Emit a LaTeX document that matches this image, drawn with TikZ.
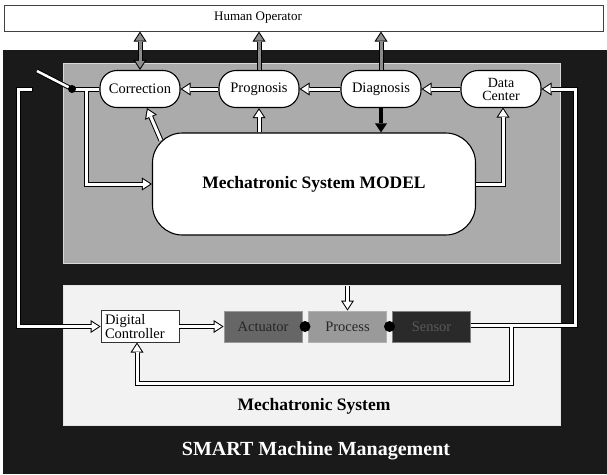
\documentclass[tikz,border=0pt]{standalone}
\usepackage{fontspec}
\setmainfont{Liberation Serif}
\usetikzlibrary{arrows.meta,calc}
\definecolor{bgdark}{HTML}{1A1A1A}
\definecolor{panelgray}{HTML}{ABABAB}
\definecolor{panelwhite}{HTML}{F2F2F2}
\definecolor{actgray}{HTML}{666666}
\definecolor{procgray}{HTML}{9A9A9A}
\definecolor{sengray}{HTML}{2A2A2A}
\definecolor{hoarrow}{HTML}{8C8C8C}
\begin{document}
\begin{tikzpicture}[x=1pt,y=-1pt,
  oval/.style={draw=black, line width=1.1pt, fill=white, rounded corners=17pt, minimum width=80pt, minimum height=37pt, inner sep=1pt, font=\fontsize{14.5}{15}\selectfont, align=center},
  blkbox/.style={line width=0.8pt, minimum width=78pt, minimum height=31pt, inner sep=2pt, font=\fontsize{14.5}{15}\selectfont},
  outer/.style={line width=5pt, draw=black},
  inner/.style={line width=3pt, draw=#1}, inner/.default=white,
  tipo/.style={-{Triangle[length=10pt,width=13pt,line width=0pt]}},
  tipi/.style={shorten >=1.83pt, -{Triangle[length=7.2pt,width=9.3pt,line width=0pt]}},
  tipoo/.style={{Triangle[length=10pt,width=13pt,line width=0pt]}-{Triangle[length=10pt,width=13pt,line width=0pt]}},
  tipii/.style={shorten >=1.83pt, shorten <=1.83pt, {Triangle[length=7.2pt,width=9.3pt,line width=0pt]}-{Triangle[length=7.2pt,width=9.3pt,line width=0pt]}},
]
\useasboundingbox (0,0) rectangle (607,474);
\fill[white] (0,0) rectangle (607,474);
\fill[bgdark] (3,50) rectangle (607,474);
\filldraw[fill=panelgray, draw=black!15, line width=0.8pt] (63,63) rectangle (560,263);
\filldraw[fill=panelwhite, draw=black!10, line width=0.8pt] (63,285) rectangle (560,425);

% Human operator
\node[draw=black!75, line width=1pt, fill=white, minimum width=599pt, minimum height=26pt, inner sep=0pt] (ho) at (303.5,18) {};
\node[font=\fontsize{13}{13}\selectfont] (hotext) at (258,18) {Human Operator};

% upper nodes
\node[oval] (corr) at (140,89) {Correction};
\node[oval] (prog) at (259,89) {Prognosis};
\node[oval] (diag) at (381,89) {Diagnosis};
\node[oval, font=\fontsize{14}{13}\selectfont] (dc) at (501,89) {Data\\Center};
\node[draw=black, line width=1.1pt, fill=white, rounded corners=30pt, minimum width=323pt, minimum height=102pt, font=\bfseries\fontsize{17.5}{19}\selectfont] (model) at (314,184) {Mechatronic System MODEL};

% lower nodes
\node[draw=black!80, fill=white, line width=0.8pt, minimum width=78pt, minimum height=32pt, inner sep=3pt, align=left, text width=70pt, font=\fontsize{14.5}{14.5}\selectfont] (ctrl) at (140,326.5) {Digital\\Controller};
\node[blkbox, fill=actgray, draw=black!40, text=black!85] (act) at (263,326.5) {Actuator};
\node[blkbox, fill=procgray, draw=black!30, text=black!85] (proc) at (347.5,326.5) {Process};
\node[blkbox, fill=sengray, draw=black!50, text=black!65] (sen) at (431.5,326.5) {Sensor};
\node[circle, fill=black, minimum size=11pt, inner sep=0pt] (dot1) at (305,326.5) {};
\node[circle, fill=black, minimum size=11pt, inner sep=0pt] (dot2) at (389.5,326.5) {};

\node[font=\bfseries\fontsize{17.5}{19}\selectfont] (mstext) at (314,406) {Mechatronic System};
\node[font=\bfseries\fontsize{20}{22}\selectfont, text=white] (smart) at (316,451) {SMART Machine Management};

% coordinates
\coordinate (sw) at (37,71);
\coordinate (swdot) at (72,89);
\coordinate (brj) at (86,89);
\coordinate (brc) at (86,184);
\coordinate (lt) at (33,89.5);
\coordinate (lc1) at (18,89.5);
\coordinate (lc2) at (18,326.5);
\coordinate (rb) at (575,325);
\coordinate (rt) at (575,89);
\coordinate (rs) at (sen.east |- rb);
\coordinate (fb1) at (511,325);
\coordinate (fb2) at (511,383.5);
\coordinate (fb3) at (137,383.5);
\coordinate (fb4) at (137,342.5);
\coordinate (pin) at (347.5,286);
\coordinate (mtl) at ($(model.north west)+(9,8)$);
\coordinate (ctarget) at ($(corr.south)+(7,0)$);
\coordinate (dcin) at (503,107.5);

% arrows to human operator
\draw[outer, tipoo] (corr.north) -- (corr.north |- ho.south);
\draw[inner=hoarrow, tipii] (corr.north) -- (corr.north |- ho.south);
\draw[outer, tipo] (prog.north) -- (prog.north |- ho.south);
\draw[inner=hoarrow, tipi] (prog.north) -- (prog.north |- ho.south);
\draw[outer, tipo] (diag.north) -- (diag.north |- ho.south);
\draw[inner=hoarrow, tipi] (diag.north) -- (diag.north |- ho.south);

% chain
\draw[outer, tipo] (dc.west) -- (diag.east);
\draw[inner, tipi] (dc.west) -- (diag.east);
\draw[outer, tipo] (diag.west) -- (prog.east);
\draw[inner, tipi] (diag.west) -- (prog.east);
\draw[outer, tipo] (prog.west) -- (corr.east);
\draw[inner, tipi] (prog.west) -- (corr.east);

% model links
\draw[outer, tipo] (prog.south |- model.north) -- (prog.south);
\draw[inner, tipi] (prog.south |- model.north) -- (prog.south);
\draw[outer, tipo] (mtl) -- (ctarget);
\draw[inner, tipi] (mtl) -- (ctarget);
\draw[outer, tipo] (model.east) -| (dcin);
\draw[inner, tipi] (model.east) -| (dcin);
\draw[line width=3.5pt, -{Triangle[length=9pt,width=12pt,line width=0pt]}] (diag.south) -- (diag.south |- model.north);

% correction output, switch and branch
\draw[outer] (corr.west) -- (swdot);
\draw[outer, tipo] (brj) -- (brc) -- (model.west);
\draw[inner] (corr.west) -- (swdot);
\draw[inner, tipi] (brj) -- (brc) -- (model.west);
\draw[line width=4.5pt] (sw) -- (swdot);
\draw[line width=2.5pt, white] (sw) -- (swdot);
\node[circle, fill=black, minimum size=8pt, inner sep=0pt] (swd) at (swdot) {};

% left loop
\draw[outer, tipo] (lt) -- (lc1) -- (lc2) -- (ctrl.west);
\draw[inner, tipi, shorten <=1pt] (lt) -- (lc1) -- (lc2) -- (ctrl.west);

% lower arrows
\draw[outer, tipo] (ctrl.east) -- (act.west);
\draw[inner, tipi] (ctrl.east) -- (act.west);
\draw[outer, tipo] (pin) -- (proc.north);
\draw[inner, tipi] (pin) -- (proc.north);

% right loop and feedback
\draw[outer, tipo] (rs) -- (rb) -- (rt) -- (dc.east);
\draw[outer, tipo] (fb1) -- (fb2) -- (fb3) -- (fb4);
\draw[inner, tipi] (rs) -- (rb) -- (rt) -- (dc.east);
\draw[inner, tipi] (fb1) -- (fb2) -- (fb3) -- (fb4);
\end{tikzpicture}
\end{document}
